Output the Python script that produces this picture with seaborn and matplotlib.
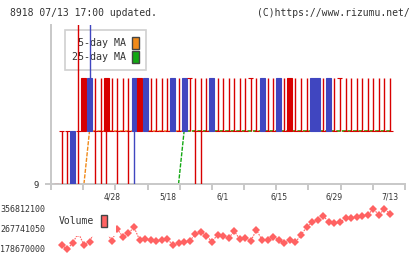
import numpy as np
import pandas as pd
import matplotlib
matplotlib.use("Agg")
import matplotlib.pyplot as plt
import seaborn as sns
from matplotlib.patches import Patch
from matplotlib.font_manager import FontProperties

# ---------------- data ----------------
day_index = list(range(-1, 60))
opens = [9,
         10, 10, 10, 10, 10, 11, 10, 10, 10, 10,
         10, 10, 10, 11, 10, 11, 10, 10, 10, 10,
         11, 10, 11, 11, 10, 10, 10, 11, 10, 10,
         10, 10, 10, 10, 11, 10, 11, 10, 10, 11,
         10, 10, 10, 10, 10, 11, 11, 10, 11, 10,
         11, 10, 10, 10, 10, 10, 10, 10, 10, 10]
closes = [9,
          10, 10, 9, 10, 11, 10, 10, 10, 11, 10,
          10, 10, 10, 10, 11, 10, 10, 10, 10, 10,
          10, 10, 10, 11, 10, 10, 10, 10, 10, 10,
          10, 10, 10, 10, 11, 10, 10, 10, 10, 10,
          10, 11, 10, 10, 10, 10, 10, 10, 10, 10,
          11, 10, 10, 10, 10, 10, 10, 10, 10, 10]
highs = [9,
         10, 10, 10, 13, 11, 13, 11, 11, 11, 11,
         11, 11, 11, 11, 11, 11, 11, 11, 11, 11,
         11, 11, 11, 11, 11, 11, 11, 11, 11, 11,
         11, 11, 11, 11, 11, 11, 11, 11, 11, 11,
         11, 11, 11, 11, 11, 11, 11, 11, 11, 11,
         11, 11, 11, 11, 11, 11, 11, 11, 11, 11]
lows = [9,
        9, 9, 9, 9, 10, 10, 9, 9, 9, 10,
        9, 10, 9, 9, 10, 10, 10, 10, 10, 10,
        10, 10, 10, 10, 9, 9, 10, 10, 10, 10,
        10, 10, 10, 10, 10, 10, 10, 10, 10, 10,
        10, 10, 10, 10, 10, 10, 10, 10, 10, 10,
        10, 10, 10, 10, 10, 10, 10, 10, 10, 10]
nan = np.nan
ma5 = [nan, nan, nan, nan, nan, 9,
       10, 10, 10, 10, 10, 10, 10, 10, 10, 10, 10, 10, 10, 10, 10,
       10, 10, 10, 10, 10, 10, 10, 10, 10, 10, 10, 10, 10, 10, 10,
       10, 10, 10, 10, 10, 10, 10, 10, 10, 10, 10, 10, 10, 10, 10,
       10, 10, 10, 10, 10, 10, 10, 10, 10, 10]
ma25 = [nan, nan, nan, nan, nan, nan, nan, nan, nan, nan, nan,
        nan, nan, nan, nan, nan, nan, nan, nan, nan, nan, nan,
        9,
        10, 10, 10, 10, 10, 10, 10, 10, 10, 10, 10, 10, 10, 10, 10,
        10, 10, 10, 10, 10, 10, 10, 10, 10, 10, 10, 10, 10, 10, 10,
        10, 10, 10, 10, 10, 10, 10, 10]
volume = [nan,
          196200000, 177400000, 206200000, 248700000, 196200000,
          210600000, 258600000, 270000000, 254000000, 215000000,
          264900000, 232500000, 247400000, 273600000, 218100000,
          221100000, 218100000, 213700000, 218100000, 221100000,
          196200000, 203600000, 208000000, 213700000, 243000000,
          251800000, 236900000, 210600000, 240000000, 235600000,
          225500000, 257500000, 221100000, 225500000, 215000000,
          261800000, 218100000, 218100000, 232500000, 218100000,
          203600000, 218100000, 208000000, 240000000, 273600000,
          295500000, 305600000, 324400000, 295500000, 291200000,
          295500000, 313000000, 313000000, 317400000, 324400000,
          327500000, 354000000, 327500000, 354000000, 331900000]
date_ticks = [9, 19, 29, 39, 49, 59]
date_labels = ["4/28", "5/18", "6/1", "6/15", "6/29", "7/13"]
vol_ticks = [178670000, 267741050, 356812100]
vol_tick_labels = ["178670000", "267741050", "356812100"]
price_ticks = [9]
price_tick_labels = ["9"]

df = pd.DataFrame({"i": day_index, "open": opens, "close": closes,
                   "high": highs, "low": lows, "ma5": ma5, "ma25": ma25,
                   "volume": volume})

# ---------------- style ----------------
sns.set_style("white", {"xtick.bottom": True, "ytick.left": True})
plt.rcParams["font.family"] = ["DejaVu Sans Mono", "DejaVu Sans"]

RED = "#d80000"
BLUE = "#4046c0"
ORANGE = "#f08a1a"
GREEN = "#12a812"
VOLC = "#ff6262"
GRID = "#c8c8c8"
TXT = "#333333"

fig = plt.figure(figsize=(4.2, 2.59), dpi=100)
ax = fig.add_axes([51 / 420, 1 - 184 / 259, 354 / 420, 159 / 259])
ax2 = fig.add_axes([51 / 420, 1 - 253 / 259, 354 / 420, 48 / 259])
xlim = (-1.92, 61.69)

# ---------------- price panel ----------------
sns.lineplot(data=df, x="i", y="ma5", ax=ax, color=ORANGE, lw=1.0,
             linestyle=(0, (3, 1)), zorder=2)
sns.lineplot(data=df, x="i", y="ma25", ax=ax, color=GREEN, lw=1.0,
             linestyle=(0, (3, 1)), zorder=2)

up = df["close"] >= df["open"]
colors = np.where(up, RED, BLUE)
ax.vlines(df["i"], df["low"], df["high"], colors=colors, lw=1.0, zorder=3)
ax.bar(df["i"], df["close"] - df["open"], bottom=df["open"], width=0.9,
       color=colors, edgecolor=colors, lw=0.8, zorder=3)

ax.set_xlim(*xlim)
ax.set_ylim(9, 12)
ax.set_xticks(np.linspace(xlim[0], xlim[1], 12))
ax.set_xticklabels([])
ax.set_yticks(price_ticks)
ax.set_yticklabels(price_tick_labels)
ax.set_xlabel("")
ax.set_ylabel("")
for s in ["top", "right"]:
    ax.spines[s].set_visible(False)
for s in ["left", "bottom"]:
    ax.spines[s].set_visible(True)
    ax.spines[s].set_color(GRID)
    ax.spines[s].set_linewidth(1.4)
    ax.spines[s].set_zorder(2.5)
ax.tick_params(axis="both", which="major", direction="out", length=4.3,
               width=1.4, color=GRID, labelcolor=TXT, labelsize=6.5, pad=4.3,
               bottom=True, left=True)

leg = ax.legend(handles=[Patch(facecolor=ORANGE, edgecolor="#444444", lw=1),
                         Patch(facecolor=GREEN, edgecolor="#444444", lw=1)],
                labels=["5-day MA", "25-day MA"], loc="upper left",
                bbox_to_anchor=(65 / 420, 1 - 30 / 259),
                bbox_transform=fig.transFigure, borderaxespad=0,
                markerfirst=False, handlelength=0.7, handleheight=1.5,
                handletextpad=0.57, labelspacing=0.17, borderpad=0.7,
                fancybox=False, edgecolor="#d0d0d0", facecolor="white",
                framealpha=1, prop=FontProperties(family="DejaVu Sans Mono", size=7.2))
leg.get_frame().set_linewidth(1.2)
for t in leg.get_texts():
    t.set_color(TXT)
leg.set_zorder(1.5)

# ---------------- volume panel ----------------
sns.lineplot(data=df, x="i", y="volume", ax=ax2, color=VOLC, lw=0.8,
             linestyle=(0, (1.5, 1)), marker="D", markersize=3.8,
             markeredgewidth=0, markerfacecolor=VOLC, zorder=2)
ax2.set_xlim(*xlim)
ax2.set_ylim(161e6, 371e6)
ax2.set_xlabel("")
ax2.set_ylabel("")
for s in ax2.spines.values():
    s.set_visible(False)
ax2.xaxis.tick_top()
ax2.set_xticks(date_ticks)
ax2.set_xticklabels(date_labels, fontsize=5.5, family="DejaVu Sans", color=TXT)
ax2.set_yticks(vol_ticks)
ax2.set_yticklabels(vol_tick_labels, fontsize=6, color=TXT)
ax2.tick_params(axis="x", length=0, pad=2.3)
ax2.tick_params(axis="y", length=0, pad=4.3)
ax2.patch.set_alpha(0)

leg2 = ax2.legend(handles=[Patch(facecolor=VOLC, edgecolor="#444444", lw=1)],
                  labels=["Volume"], loc="center",
                  bbox_to_anchor=(82.8 / 420, 1 - 220.8 / 259),
                  bbox_transform=fig.transFigure, markerfirst=False,
                  handlelength=0.62, handleheight=1.55, handletextpad=0.8,
                  borderpad=0.9, fancybox=False, frameon=True,
                  facecolor="white", edgecolor="none", framealpha=1,
                  prop=FontProperties(family="DejaVu Sans Mono", size=7))
for t in leg2.get_texts():
    t.set_color(TXT)
leg2.set_zorder(5)

# ---------------- header ----------------
fig.text(10 / 420, 1 - 13.3 / 259, "8918 07/13 17:00 updated.", ha="left",
         va="center", fontsize=7, color=TXT, family="DejaVu Sans Mono")
fig.text(410 / 420, 1 - 13.3 / 259, "(C)https://www.rizumu.net/", ha="right",
         va="center", fontsize=7, color=TXT, family="DejaVu Sans Mono")

fig.savefig("out.png", dpi=100)
